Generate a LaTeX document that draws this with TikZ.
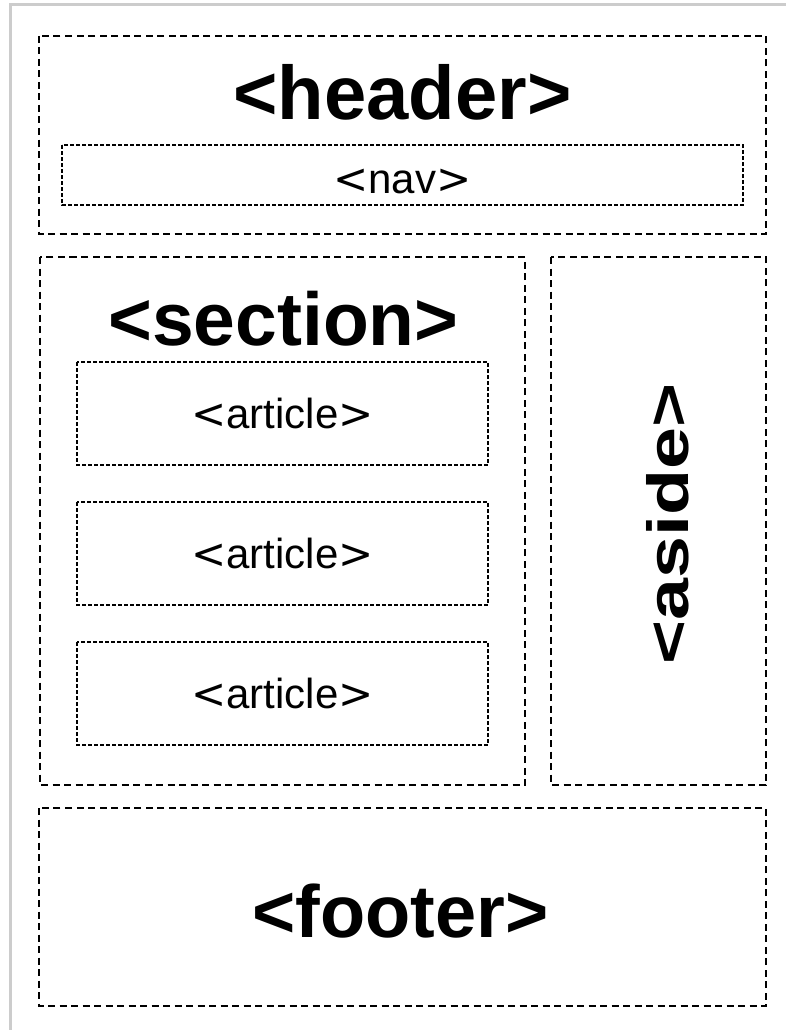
\documentclass[tikz,border=0pt]{standalone}
\usepackage{fontspec}
\setmainfont{Liberation Sans}
\newfontfamily\brk{DejaVu Sans}
\newcommand{\tagsm}[1]{{\brk<}#1{\brk>}}
\begin{document}
\begin{tikzpicture}[x=1pt,y=-1pt,
  outerbox/.style={draw,line width=2.2pt,dash pattern=on 7pt off 4.5pt},
  innerbox/.style={draw,line width=1.6pt,dash pattern=on 4pt off 2pt},
  bigtext/.style={font=\fontsize{76}{76}\selectfont\bfseries,anchor=base,inner sep=0pt},
  smalltext/.style={font=\fontsize{42}{42}\selectfont,anchor=base,inner sep=0pt}]
\useasboundingbox (0,0) rectangle (786,1030);
\fill[white] (0,0) rectangle (786,1030);
\draw[line width=3pt,color=black!20] (10,1040) -- (10,5) -- (796,5);
% boxes
\draw[outerbox] (39,36) rectangle (766,234);
\draw[innerbox] (62,145) rectangle (743,205);
\draw[outerbox] (40,257) rectangle (525,785);
\draw[outerbox] (551,257) rectangle (766,785);
\draw[innerbox] (77,362) rectangle (488,465);
\draw[innerbox] (77,502) rectangle (488,605);
\draw[innerbox] (77,642) rectangle (488,745);
\draw[outerbox] (39,808) rectangle (766,1006);
% labels
\node[bigtext] (headert) at (402.5,120) {<header>};
\node[smalltext] (navt) at (402.5,193) {\tagsm{nav}};
\node[bigtext,font=\fontsize{75}{75}\selectfont\bfseries] (sectiont) at (283.5,345) {<section>};
\node[smalltext] (art1) at (282.5,428) {\tagsm{article}};
\node[smalltext] (art2) at (282.5,568) {\tagsm{article}};
\node[smalltext] (art3) at (282.5,708) {\tagsm{article}};
\node[rotate=90,anchor=base,inner sep=0pt,font=\fontsize{58}{58}\selectfont\bfseries] (asidet) at (688,524) {\scalebox{1.3}[1]{<aside>}};
\node[bigtext,font=\fontsize{74}{74}\selectfont\bfseries] (footert) at (400.5,937) {<footer>};
\end{tikzpicture}
\end{document}
